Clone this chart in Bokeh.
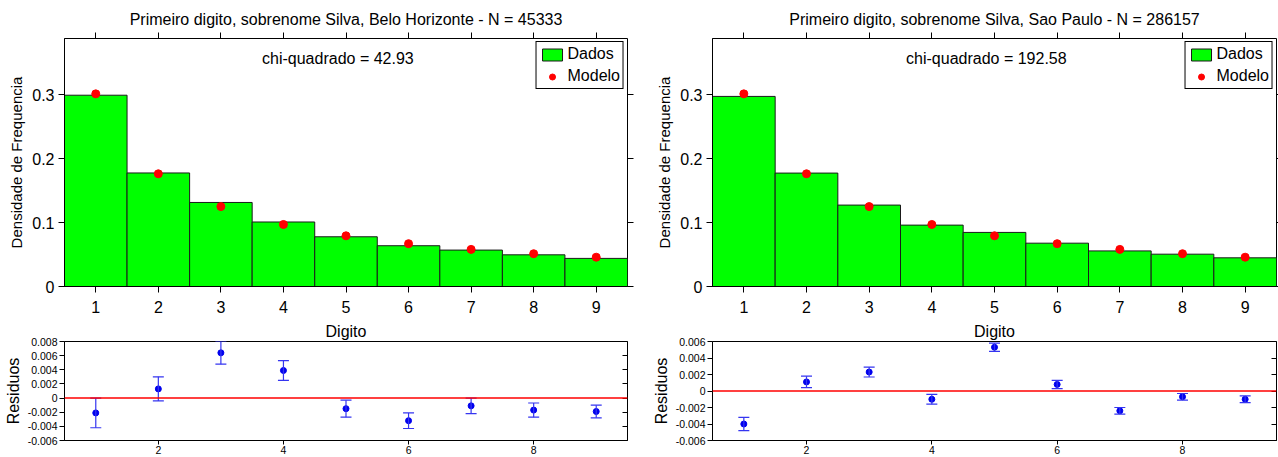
from bokeh.plotting import figure
from bokeh.models import (Range1d, FixedTicker, LinearAxis, Legend, LegendItem,
                          Label, Span, Whisker, ColumnDataSource, TeeHead)
from bokeh.layouts import row, column
from bokeh.embed import file_html
from bokeh.resources import INLINE

# ---- data ----
digits = [1, 2, 3, 4, 5, 6, 7, 8, 9]
model = [0.3010, 0.1761, 0.1249, 0.0969, 0.0792, 0.0669, 0.0580, 0.0512, 0.0458]

bh_title = "Primeiro digito, sobrenome Silva, Belo Horizonte - N = 45333"
bh_chi = "chi-quadrado = 42.93"
bh_data = [0.2989, 0.1774, 0.1313, 0.1008, 0.0777, 0.0637, 0.0569, 0.0495, 0.0439]
bh_resid = [-0.0021, 0.0013, 0.0064, 0.0039, -0.0015, -0.0032, -0.0011, -0.0017, -0.0019]
bh_err = [0.0021, 0.0017, 0.0016, 0.0014, 0.0012, 0.0011, 0.0011, 0.0010, 0.0009]

sp_title = "Primeiro digito, sobrenome Silva, Sao Paulo - N = 286157"
sp_chi = "chi-quadrado = 192.58"
sp_data = [0.2970, 0.1772, 0.1272, 0.0959, 0.0845, 0.0677, 0.0556, 0.0505, 0.0448]
sp_resid = [-0.0040, 0.0011, 0.0023, -0.0010, 0.0053, 0.0008, -0.0024, -0.0007, -0.0010]
sp_err = [0.0008, 0.0007, 0.0006, 0.0006, 0.0005, 0.0005, 0.0004, 0.0004, 0.0004]

main_yticks = [0, 0.1, 0.2, 0.3]
main_ylabels = ["0", "0.1", "0.2", "0.3"]
bh_res_yticks = [-0.006, -0.004, -0.002, 0, 0.002, 0.004, 0.006, 0.008]
bh_res_ylabels = ["-0.006", "-0.004", "-0.002", "0", "0.002", "0.004", "0.006", "0.008"]
sp_res_yticks = [-0.006, -0.004, -0.002, 0, 0.002, 0.004, 0.006]
sp_res_ylabels = ["-0.006", "-0.004", "-0.002", "0", "0.002", "0.004", "0.006"]
res_xticks = [2, 4, 6, 8]
x_label = "Digito"

FONT = "Liberation Sans"
BAR_GREEN = "#00FF00"
DOT_RED = "#FF0000"
ERR_BLUE = "#3535F0"
PT_BLUE = "#0000EE"


def blank_axis(ticks, tick_in, tick_out, label=None, label_standoff=0):
    """Extra axis: tick marks along a frame edge, optionally an axis title."""
    ax = LinearAxis(ticker=FixedTicker(ticks=ticks),
                    major_label_text_font_size="0px",
                    major_label_text_color=None,
                    major_label_standoff=0,
                    major_tick_in=tick_in, major_tick_out=tick_out,
                    minor_tick_line_color=None,
                    axis_line_color=None,
                    major_tick_line_color="black")
    if label is not None:
        ax.axis_label = label
        ax.axis_label_standoff = label_standoff
        ax.axis_label_text_font = FONT
        ax.axis_label_text_font_size = "16px"
        ax.axis_label_text_font_style = "normal"
        ax.axis_label_text_color = "black"
    return ax


def style_axes(p):
    for ax in p.xaxis + p.yaxis:
        ax.major_label_text_font = FONT
        ax.axis_label_text_font = FONT
        ax.axis_label_text_font_style = "normal"
        ax.minor_tick_line_color = None
        ax.axis_line_color = "black"
        ax.major_tick_line_color = "black"
        ax.major_label_text_color = "black"
        ax.axis_label_text_color = "black"


def main_fig(title, data, chi, width, border_left, border_right, right_tick_out):
    p = figure(width=width, height=319, title=title,
               x_range=Range1d(0.5, 9.5), y_range=Range1d(0, 0.3875),
               min_border_left=border_left, min_border_right=border_right,
               min_border_top=38, min_border_bottom=33,
               output_backend="svg", toolbar_location=None)
    p.xgrid.visible = False
    p.ygrid.visible = False
    p.outline_line_color = "black"
    p.outline_line_alpha = 1.0
    p.title.text_font = FONT
    p.title.text_font_size = "16px"
    p.title.text_font_style = "normal"
    p.title.align = "center"
    p.title.text_color = "black"

    src = ColumnDataSource(dict(x=digits, data=data, model=model))
    bars = p.vbar(x="x", top="data", width=1.0, source=src,
                  fill_color=BAR_GREEN, line_color="#1a1a1a", line_width=1)
    dots = p.scatter(x="x", y="model", source=src, size=8,
                     fill_color=DOT_RED, line_color=DOT_RED)

    p.xaxis.ticker = FixedTicker(ticks=digits)
    p.xaxis.major_tick_out = 6
    p.xaxis.major_tick_in = 0
    p.xaxis.major_label_standoff = 8
    p.xaxis.major_label_text_font_size = "16px"

    p.yaxis.ticker = FixedTicker(ticks=main_yticks)
    p.yaxis.major_label_overrides = dict(zip(main_yticks, main_ylabels))
    p.yaxis.axis_label = "Densidade de Frequencia"
    p.yaxis.major_tick_out = 6
    p.yaxis.major_tick_in = 0
    p.yaxis.major_label_standoff = 4
    p.yaxis.axis_label_standoff = 4
    p.yaxis.major_label_text_font_size = "16px"
    p.yaxis.axis_label_text_font_size = "15px"
    style_axes(p)

    p.add_layout(blank_axis(digits, 0, 6), "above")
    p.add_layout(blank_axis(main_yticks, 0, right_tick_out), "right")

    p.add_layout(Label(x=4.87, y=0.356, text=chi, text_align="center",
                       text_baseline="middle", text_font=FONT,
                       text_font_size="16px", text_color="black"))

    legend = Legend(items=[LegendItem(label="Dados", renderers=[bars]),
                           LegendItem(label="Modelo", renderers=[dots])],
                    location="top_right")
    legend.label_text_font = FONT
    legend.label_text_font_size = "16px"
    legend.label_text_color = "black"
    legend.border_line_color = "black"
    legend.border_line_alpha = 1.0
    legend.border_line_width = 1
    legend.background_fill_alpha = 1.0
    legend.glyph_width = 25
    legend.glyph_height = 15
    legend.label_standoff = 3
    legend.padding = 3
    legend.spacing = 4
    legend.margin = 3
    legend.label_height = 18
    p.add_layout(legend)
    return p


def resid_fig(resid, err, yticks, ylabels, width, border_left, border_right):
    p = figure(width=width, height=138,
               x_range=Range1d(0.5, 9.5), y_range=Range1d(yticks[0], yticks[-1]),
               min_border_left=border_left, min_border_right=border_right,
               min_border_top=21, min_border_bottom=17,
               output_backend="svg", toolbar_location=None)
    p.xgrid.visible = False
    p.ygrid.visible = False
    p.outline_line_color = "black"
    p.outline_line_alpha = 1.0

    upper = [r + e for r, e in zip(resid, err)]
    lower = [r - e for r, e in zip(resid, err)]
    src = ColumnDataSource(dict(x=digits, y=resid, upper=upper, lower=lower))

    p.add_layout(Span(location=0, dimension="width", line_color="#FF0000",
                      line_width=1.5))
    wh = Whisker(source=src, base="x", upper="upper", lower="lower",
                 line_color=ERR_BLUE, line_width=1.2, level="glyph",
                 upper_head=TeeHead(size=11, line_color=ERR_BLUE, line_width=1.2),
                 lower_head=TeeHead(size=11, line_color=ERR_BLUE, line_width=1.2))
    p.add_layout(wh)
    p.scatter(x="x", y="y", source=src, size=6, fill_color=PT_BLUE,
              line_color=PT_BLUE)

    p.xaxis.ticker = FixedTicker(ticks=res_xticks)
    p.xaxis.major_tick_out = 4
    p.xaxis.major_tick_in = 0
    p.xaxis.major_label_standoff = 1
    p.xaxis.major_label_text_font_size = "10.5px"

    p.yaxis.ticker = FixedTicker(ticks=yticks)
    p.yaxis.major_label_overrides = dict(zip(yticks, ylabels))
    p.yaxis.axis_label = "Residuos"
    p.yaxis.major_tick_out = 5
    p.yaxis.major_tick_in = 0
    p.yaxis.major_label_standoff = 2
    p.yaxis.axis_label_standoff = 3
    p.yaxis.major_label_text_font_size = "10.5px"
    p.yaxis.axis_label_text_font_size = "16px"
    style_axes(p)

    p.add_layout(blank_axis(yticks, 5, 0), "right")
    # x-axis title of the histogram, placed in the gap above this panel
    p.add_layout(blank_axis([], 0, 0, label=x_label, label_standoff=2), "above")
    return p


bh_main = main_fig(bh_title, bh_data, bh_chi, 640, 64, 13, 6)
bh_res = resid_fig(bh_resid, bh_err, bh_res_yticks, bh_res_ylabels, 640, 64, 13)
sp_main = main_fig(sp_title, sp_data, sp_chi, 638, 72, 2, 2)
sp_res = resid_fig(sp_resid, sp_err, sp_res_yticks, sp_res_ylabels, 638, 72, 2)

layout = row(column(bh_main, bh_res), column(sp_main, sp_res))

with open("out.html", "w") as f:
    f.write(file_html(layout, INLINE))
